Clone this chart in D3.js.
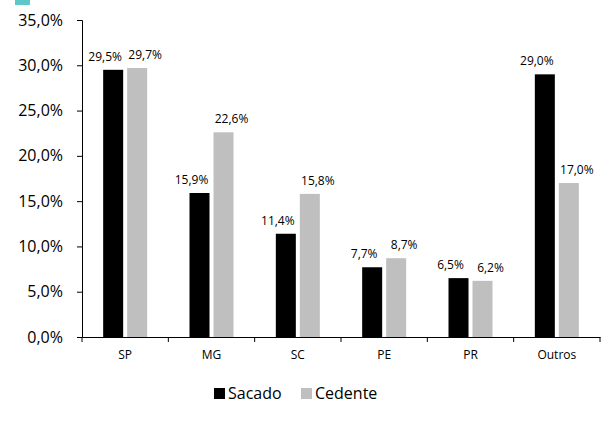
<!DOCTYPE html>
<html><head><meta charset="utf-8">
<script src="https://cdn.jsdelivr.net/npm/d3@7"></script>
<style>body{margin:0;background:#fff}text{font-family:"Open Sans","Liberation Sans",sans-serif}</style>
</head><body>
<svg id="c" width="604" height="428"></svg>
<script>
var categories = ["SP", "MG", "SC", "PE", "PR", "Outros"];
var sacado = [29.5, 15.9, 11.4, 7.7, 6.5, 29.0];
var cedente = [29.7, 22.6, 15.8, 8.7, 6.2, 17.0];
var yTicks = [0, 5, 10, 15, 20, 25, 30, 35];
var series = [{name: "Sacado", values: sacado, color: "#000"}, {name: "Cedente", values: cedente, color: "#bfbfbf"}];

var svg = d3.select("#c"),
	mLeft = 82, mRight = 600, mTop = 20, mBottom = 337;

var fmt = function(v) { return v.toFixed(1).replace(".", ",") + "%"; };

var x = d3.scaleBand().domain(categories).range([mLeft, mRight]);
var y = d3.scaleLinear().domain([0, 35]).range([mBottom, mTop]);

// teal marker top-left
svg.append("rect").attr("x", 15).attr("y", 0).attr("width", 15).attr("height", 5).attr("fill", "#5ec8c8");

// y axis
var ya = svg.append("g").attr("transform", "translate(" + mLeft + ",0)")
	.call(d3.axisLeft(y).tickValues(yTicks).tickFormat(fmt).tickSize(5));
ya.select(".domain").attr("stroke", "#000");
ya.selectAll("text").style("font-size", "16px").attr("fill", "#000").attr("x", -19);

// x axis
var xa = svg.append("g").attr("transform", "translate(0," + mBottom + ")")
	.call(d3.axisBottom(x).tickSize(0).tickSizeOuter(0));
xa.select(".domain").attr("stroke", "#000");
xa.selectAll("text").style("font-size", "12px").attr("fill", "#000").attr("dy", "1.6em");
svg.selectAll(".sep").data(d3.range(categories.length + 1)).enter().append("line")
	.attr("x1", function(i) { return mLeft + i * x.bandwidth(); })
	.attr("x2", function(i) { return mLeft + i * x.bandwidth(); })
	.attr("y1", mBottom).attr("y2", mBottom + 5).attr("stroke", "#000");

var bw = 20, gap = 4;
series.forEach(function(s, si) {
	var off = si === 0 ? -bw - gap / 2 : gap / 2;
	var g = svg.append("g");
	g.selectAll("rect").data(s.values).enter().append("rect")
		.attr("x", function(d, i) { return x(categories[i]) + x.bandwidth() / 2 + off; })
		.attr("y", function(d) { return y(d); })
		.attr("width", bw)
		.attr("height", function(d) { return mBottom - y(d); })
		.attr("fill", s.color);
	g.selectAll("text").data(s.values).enter().append("text")
		.attr("x", function(d, i) {
			var cx = x(categories[i]) + x.bandwidth() / 2 + off + bw / 2;
			return cx + (si === 0 ? -8 : 8);
		})
		.attr("y", function(d) { return y(d) - 9; })
		.attr("text-anchor", "middle").style("font-size", "12px").text(fmt);
});

// legend
var lg = svg.append("g").attr("transform", "translate(214,388)");
series.forEach(function(s, i) {
	var gx = i * 87;
	lg.append("rect").attr("x", gx).attr("y", 0).attr("width", 11).attr("height", 11).attr("fill", s.color);
	lg.append("text").attr("x", gx + 14).attr("y", 11).style("font-size", "16px").text(s.name);
});
</script>
</body></html>
